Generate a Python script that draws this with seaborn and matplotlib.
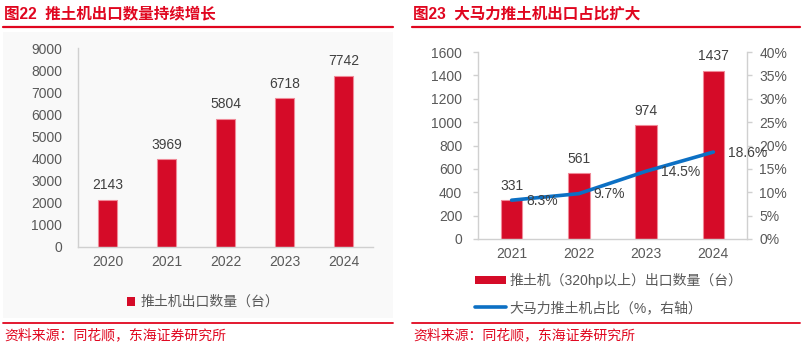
import numpy as np
import pandas as pd
import seaborn as sns
import matplotlib.pyplot as plt
from matplotlib.patches import Patch, Rectangle
from matplotlib.lines import Line2D
from matplotlib.ticker import FuncFormatter, MultipleLocator

sns.set_theme(style="white")
plt.rcParams["font.family"] = ["Liberation Sans", "Noto Sans CJK SC", "DejaVu Sans"]

# 推土机出口数量（台）
years_total = ["2020", "2021", "2022", "2023", "2024"]
export_total = [2143, 3969, 5804, 6718, 7742]

# 大马力推土机（320hp以上）出口数量及占比
years_hp = ["2021", "2022", "2023", "2024"]
export_hp = [331, 561, 974, 1437]
share_hp = [8.3, 9.7, 14.5, 18.6]

title_left = "图22  推土机出口数量持续增长"
title_right = "图23  大马力推土机出口占比扩大"
legend_left = "推土机出口数量（台）"
legend_bar = "推土机（320hp以上）出口数量（台）"
legend_line = "大马力推土机占比（%，右轴）"
source = "资料来源：同花顺，东海证券研究所"

RED = "#D50B28"
EDGE = "#F08A98"
BLUE = "#0C70C4"
TITLE_RED = "#E0061F"
TICK = "#595959"
LABEL = "#404040"
SPINE = "#D0D0D0"
FS = 10

W, H = 803, 346
fig = plt.figure(figsize=(W / 100, H / 100), dpi=100)


def fx(px):
    return px / W


def fy(py):
    return 1 - py / H


# light panel background behind the left chart
fig.add_artist(Rectangle((fx(3), fy(318)), fx(390), fy(32) - fy(318),
                         transform=fig.transFigure, facecolor="#F9F9F9",
                         edgecolor="none", zorder=0))

# titles, rules and sources
for x0, x1, title in [(3, 393, title_left), (412, 800, title_right)]:
    fig.text(fx(x0 + 1), fy(14), title, color=TITLE_RED, fontsize=11.2,
             fontweight="bold", va="center", ha="left")
    fig.add_artist(Line2D([fx(x0), fx(x1)], [fy(26.5), fy(26.5)],
                          transform=fig.transFigure, color=TITLE_RED, lw=1.6))
    fig.add_artist(Line2D([fx(x0), fx(x1)], [fy(323), fy(323)],
                          transform=fig.transFigure, color=TITLE_RED, lw=1.3))
    fig.text(fx(x0 + 1), fy(335), source, color=TITLE_RED, fontsize=10,
             va="center", ha="left")


def style_axis(ax, n):
    ax.set_facecolor("none")
    for side in ["top", "right"]:
        ax.spines[side].set_visible(False)
    for side in ["left", "bottom"]:
        ax.spines[side].set_color(SPINE)
        ax.spines[side].set_linewidth(1.0)
    ax.set_xlim(-0.5, n - 0.5)
    ax.set_xticks(np.arange(n))
    ax.set_xticks(np.arange(n + 1) - 0.5, minor=True)
    ax.tick_params(axis="x", which="major", length=0, pad=6,
                   labelsize=FS, labelcolor=TICK)
    ax.tick_params(axis="x", which="minor", length=4, width=1.0,
                   color=SPINE, direction="out")
    ax.tick_params(axis="y", length=3.8, width=1.0, color=SPINE,
                   direction="out", pad=7.5, labelsize=FS, labelcolor=TICK)
    ax.set_xlabel("")
    ax.set_ylabel("")
    ax.grid(False)


# ---- left chart ----
axL = fig.add_axes([fx(78), fy(247), fx(373) - fx(78), fy(48) - fy(247)])
dfL = pd.DataFrame({"year": years_total, "qty": export_total})
sns.barplot(data=dfL, x="year", y="qty", ax=axL, color=RED, width=0.31,
            edgecolor=EDGE, linewidth=0.8, saturation=1)
style_axis(axL, len(years_total))
axL.set_ylim(0, 9000)
axL.yaxis.set_major_locator(MultipleLocator(1000))
for i, v in enumerate(export_total):
    axL.annotate(f"{v}", (i, v), xytext=(0, 5.5), textcoords="offset points",
                 ha="center", va="bottom", fontsize=FS, color=LABEL)

fig.legend(handles=[Patch(facecolor=RED, edgecolor="none", label=legend_left)],
           loc="center", bbox_to_anchor=(fx(203), fy(302)), frameon=False,
           fontsize=FS, handlelength=0.6, handleheight=0.6,
           handletextpad=0.35, labelcolor=TICK)

# ---- right chart ----
axR = fig.add_axes([fx(478), fy(239), fx(747) - fx(478), fy(52) - fy(239)])
dfR = pd.DataFrame({"year": years_hp, "qty": export_hp, "share": share_hp,
                    "pos": np.arange(len(years_hp))})
sns.barplot(data=dfR, x="year", y="qty", ax=axR, color=RED, width=0.32,
            edgecolor=EDGE, linewidth=0.8, saturation=1)
style_axis(axR, len(years_hp))
axR.set_ylim(0, 1600)
axR.yaxis.set_major_locator(MultipleLocator(200))
for i, v in enumerate(export_hp):
    axR.annotate(f"{v}", (i, v), xytext=(0, 5.5), textcoords="offset points",
                 ha="center", va="bottom", fontsize=FS, color=LABEL)

axR2 = axR.twinx()
sns.lineplot(data=dfR, x="pos", y="share", ax=axR2, color=BLUE, lw=2.6,
             solid_capstyle="round")
axR2.set_xlim(-0.5, len(years_hp) - 0.5)
axR2.set_ylim(0, 40)
axR2.yaxis.set_major_locator(MultipleLocator(5))
axR2.yaxis.set_major_formatter(FuncFormatter(lambda v, _: f"{v:.0f}%"))
axR2.set_ylabel("")
axR2.set_xlabel("")
for side in ["top", "left", "bottom"]:
    axR2.spines[side].set_visible(False)
axR2.spines["right"].set_color(SPINE)
axR2.spines["right"].set_linewidth(1.0)
axR2.tick_params(axis="y", length=3.8, width=1.0, color=SPINE, pad=5,
                 labelsize=FS, labelcolor=TICK)
axR2.grid(False)
for i, v in enumerate(share_hp):
    axR2.annotate(f"{v}%", (i, v), xytext=(10.5, -0.5), textcoords="offset points",
                  ha="left", va="center", fontsize=FS, color=LABEL)

fig.legend(handles=[Patch(facecolor=RED, edgecolor="none", label=legend_bar),
                    Line2D([], [], color=BLUE, lw=2.6, label=legend_line)],
           loc="center", bbox_to_anchor=(fx(609), fy(294)), frameon=False,
           fontsize=FS, handlelength=2.2, handleheight=0.5,
           handletextpad=0.3, labelspacing=0.9, labelcolor=TICK,
           alignment="left")

fig.savefig("out.png", dpi=100, facecolor="white")
